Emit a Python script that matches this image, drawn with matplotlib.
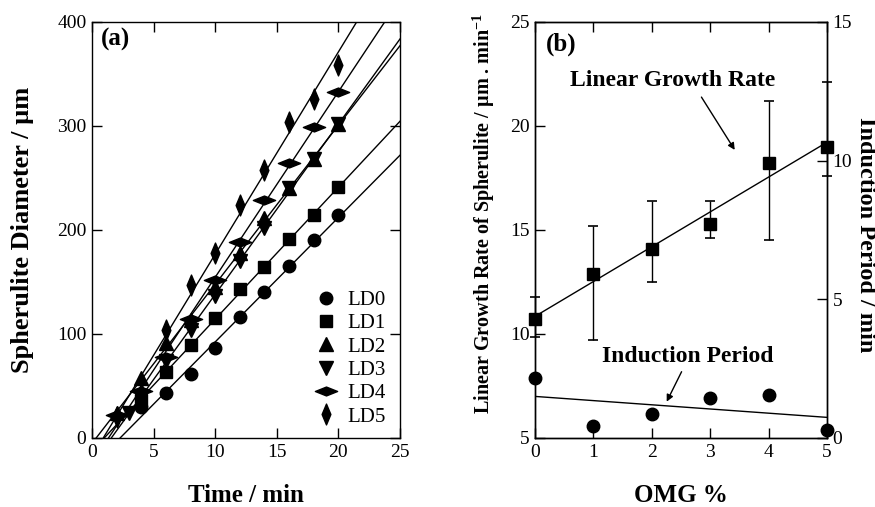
import numpy as np
import matplotlib.pyplot as plt
from matplotlib.path import Path

plt.rcParams['font.family'] = ['Liberation Serif', 'DejaVu Serif']
plt.rcParams['mathtext.fontset'] = 'custom'
plt.rcParams['mathtext.rm'] = 'Liberation Serif'
plt.rcParams['mathtext.bf'] = 'Liberation Serif:bold'
plt.rcParams['mathtext.default'] = 'bf'

# ---- data, panel (a): spherulite diameter vs time ----
t_ld0 = [4, 6, 8, 10, 12, 14, 16, 18, 20]
d_ld0 = [30, 43, 62, 87, 116, 140, 165, 190, 214]
t_ld1 = [4, 6, 8, 10, 12, 14, 16, 18, 20]
d_ld1 = [37, 63, 89, 115, 143, 164, 191, 214, 241]
t_ld2 = [2, 4, 6, 8, 10, 12, 14, 16, 18, 20]
d_ld2 = [24, 58, 91, 113, 145, 178, 212, 240, 268, 302]
t_ld3 = [3, 4, 6, 8, 10, 12, 14, 16, 18, 20]
d_ld3 = [24, 40, 74, 104, 137, 170, 202, 240, 268, 302]
t_ld4 = [2, 4, 6, 8, 10, 12, 14, 16, 18, 20]
d_ld4 = [22, 45, 78, 114, 152, 188, 229, 264, 299, 333]
t_ld5 = [2, 4, 6, 8, 10, 12, 14, 16, 18, 20]
d_ld5 = [20, 42, 104, 147, 178, 224, 258, 304, 326, 359]
labels_a = ['LD0', 'LD1', 'LD2', 'LD3', 'LD4', 'LD5']

# ---- data, panel (b): growth rate and induction period vs OMG % ----
omg = [0, 1, 2, 3, 4, 5]
rate = [10.7, 12.9, 14.1, 15.3, 18.2, 19.0]
rate_lo = [9.85, 9.7, 12.5, 14.6, 14.5, 17.6]
rate_hi = [11.8, 15.2, 16.4, 16.4, 21.2, 22.1]
induction = [2.15, 0.43, 0.85, 1.45, 1.55, 0.3]

wide_diamond = Path([(-1, 0), (0, 0.4), (1, 0), (0, -0.4), (-1, 0)],
                    [Path.MOVETO, Path.LINETO, Path.LINETO, Path.LINETO, Path.CLOSEPOLY])
tall_diamond = Path([(0, 1), (0.42, 0), (0, -1), (-0.42, 0), (0, 1)],
                    [Path.MOVETO, Path.LINETO, Path.LINETO, Path.LINETO, Path.CLOSEPOLY])

series = [(t_ld0, d_ld0, 'o', 9), (t_ld1, d_ld1, 's', 9), (t_ld2, d_ld2, '^', 10),
          (t_ld3, d_ld3, 'v', 10), (t_ld4, d_ld4, wide_diamond, 16), (t_ld5, d_ld5, tall_diamond, 15)]

fig = plt.figure(figsize=(8.75, 5.07), dpi=100)
W, H = 875, 507
ax1 = fig.add_axes([92 / W, 1 - 438 / H, 308 / W, 416 / H])
ax2 = fig.add_axes([535 / W, 1 - 438 / H, 292 / W, 416 / H])
ax3 = ax2.twinx()

# panel (a)
for (t, d, m, ms), lab in zip(series, labels_a):
    k, b = np.polyfit(t, d, 1)
    x0 = -b / k
    xs = np.array([x0, 25])
    ax1.plot(xs, k * xs + b, color='black', lw=1)
    ax1.plot(t, d, ls='none', marker=m, ms=ms, color='black', label=lab)

ax1.set_xlim(0, 25)
ax1.set_ylim(0, 400)
ax1.set_xticks([0, 5, 10, 15, 20, 25])
ax1.set_yticks([0, 100, 200, 300, 400])
leg = ax1.legend(loc='lower right', bbox_to_anchor=(1.0, -0.008), frameon=False, fontsize=15,
                 handletextpad=0.4, labelspacing=0.18, handlelength=1.2, borderaxespad=0.3)
ax1.text(0.028, 0.985, '(a)', transform=ax1.transAxes, fontsize=18, fontweight='bold', va='top')

# panel (b)
k, b = np.polyfit(omg, rate, 1)
xs = np.array([0, 5])
ax2.plot(xs, k * xs + b, color='black', lw=1)
err = [np.array(rate) - np.array(rate_lo), np.array(rate_hi) - np.array(rate)]
ax2.errorbar(omg, rate, yerr=err, fmt='s', ms=9, color='black', ecolor='black',
             elinewidth=1, capsize=3.5, capthick=1.2, clip_on=False, zorder=3)
ax2.set_xlim(0, 5)
ax2.set_ylim(5, 25)
ax2.set_xticks([0, 1, 2, 3, 4, 5])
ax2.set_yticks([5, 10, 15, 20, 25])

k2, b2 = np.polyfit(omg, induction, 1)
ax3.plot(xs, k2 * xs + b2, color='black', lw=1)
ax3.plot(omg, induction, 'o', ms=9, color='black', clip_on=False, zorder=3)
ax3.set_ylim(0, 15)
ax3.set_yticks([0, 5, 10, 15])

arrow = dict(arrowstyle='-|>', color='black', lw=1, mutation_scale=10, shrinkA=0, shrinkB=0)
ax2.text(0.038, 0.974, '(b)', transform=ax2.transAxes, fontsize=18, fontweight='bold', va='top')
ax2.text(2.36, 22.21, 'Linear Growth Rate', fontsize=17, fontweight='bold', ha='center', va='center')
ax2.annotate('', xy=(3.42, 18.85), xytext=(2.85, 21.39), arrowprops=arrow)
ax3.text(2.62, 2.93, 'Induction Period', fontsize=17, fontweight='bold', ha='center', va='center')
ax3.annotate('', xy=(2.255, 1.31), xytext=(2.51, 2.39), arrowprops=arrow)

for ax in (ax1, ax2, ax3):
    for s in ax.spines.values():
        s.set_linewidth(1)
ax1.tick_params(direction='in', length=7, width=1, labelsize=14, top=True, right=True, pad=4)
ax2.tick_params(direction='in', length=7, width=1, labelsize=14, top=True, pad=4)
ax2.tick_params(axis='x', top=True)
ax3.tick_params(direction='in', length=7, width=1, labelsize=14, pad=4)

fig.text(23 / W, 1 - 230 / H, 'Spherulite Diameter / µm', rotation=90, fontsize=19,
         fontweight='bold', ha='center', va='center')
fig.text(246 / W, 1 - 495 / H, 'Time / min', fontsize=18, fontweight='bold', ha='center', va='center')
fig.text(484 / W, 1 - 213 / H, 'Linear Growth Rate of Spherulite / µm . min$^{-1}$', rotation=90,
         fontsize=14.5, fontweight='bold', ha='center', va='center')
fig.text(865 / W, 1 - 235 / H, 'Induction Period / min', rotation=270, fontsize=17.5,
         fontweight='bold', ha='center', va='center')
fig.text(681 / W, 1 - 495 / H, 'OMG %', fontsize=18, fontweight='bold', ha='center', va='center')

fig.savefig('out.png', dpi=100)
